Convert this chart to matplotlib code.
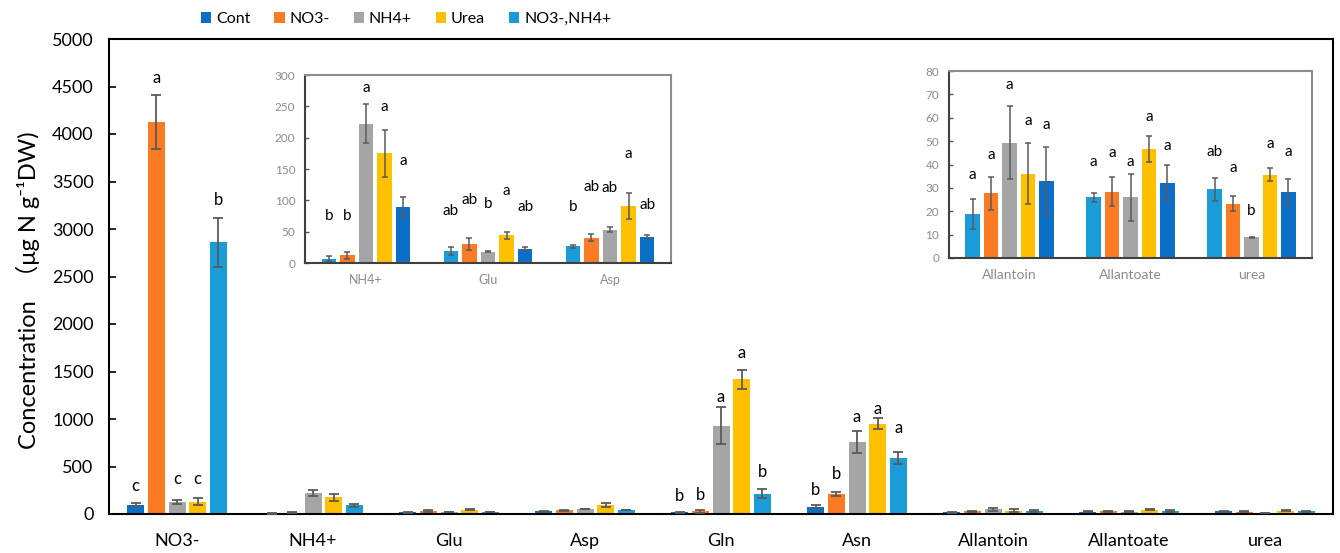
import numpy as np
import matplotlib
matplotlib.use('Agg')
import matplotlib.pyplot as plt
from matplotlib.patches import Patch

plt.rcParams['font.family'] = ['Lato', 'Noto Sans CJK SC', 'DejaVu Sans']

# 数据 (main order: Cont, NO3-, NH4+, Urea, NO3-,NH4+)
groups = ['NO3-', 'NH4+', 'Glu', 'Asp', 'Gln', 'Asn', 'Allantoin', 'Allantoate', 'urea']
series = ['Cont', 'NO3-', 'NH4+', 'Urea', 'NO3-,NH4+']

cont = [100, 7, 19, 26.5, 20, 77, 18.8, 26, 29.4]
no3 = [4130, 12, 30, 40.5, 30, 210, 27.7, 28.3, 23.3]
nh4 = [130, 222, 18, 53, 930, 758, 49.4, 26, 8.8]
urea = [130, 175, 44, 91, 1420, 950, 36, 46.7, 35.7]
mix = [2860, 90, 23, 42, 215, 590, 32.8, 32.2, 28.4]

cont_err = [15, 3.5, 6, 2.5, 5, 17, 6.5, 2, 5]
no3_err = [285, 6, 10, 6, 15, 20, 7, 6.2, 3.3]
nh4_err = [20, 31, 1, 4, 195, 120, 15.6, 10, 0.3]
urea_err = [35, 38, 6, 20, 100, 60, 13, 5.5, 2.8]
mix_err = [260, 16, 2, 2, 50, 63, 14.5, 7.5, 5.4]

# significance letters
main_letters = {
    0: ['c', 'a', 'c', 'c', 'b'],
    4: ['b', 'b', 'a', 'a', 'b'],
    5: ['b', 'b', 'a', 'a', 'a'],
}
inset_letters = {
    1: ['b', 'b', 'a', 'a', 'a'],
    2: ['ab', 'ab', 'b', 'a', 'ab'],
    3: ['b', 'ab', 'ab', 'a', 'ab'],
    6: ['a', 'a', 'a', 'a', 'a'],
    7: ['a', 'a', 'a', 'a', 'a'],
    8: ['ab', 'a', 'b', 'a', 'a'],
}

# letter heights (annotation layout)
main_letter_y = {
    0: [290, 4590, 370, 370, 3310],
    4: [185, 200, 1235, 1700, 445],
    5: [255, 420, 1025, 1100, 910],
}
inset_letter_y = {
    1: [75, 75, 279, 249, 162],
    2: [83, 100, 94, 115, 89],
    3: [89, 121, 119, 174, 92],
    6: [35.5, 43.9, 74, 58.7, 56.8],
    7: [41.2, 45, 41.2, 60.5, 47.9],
    8: [45.2, 38.4, 20.2, 48.7, 45.2],
}

colors = ['#0B6FC7', '#FB7B25', '#A5A5A5', '#FFC000', '#1A9CD8']
# the insets swap the two blues
inset_colors = ['#1A9CD8', '#FB7B25', '#A5A5A5', '#FFC000', '#0B6FC7']

values = [cont, no3, nh4, urea, mix]
errors = [cont_err, no3_err, nh4_err, urea_err, mix_err]

W, H = 1340, 553
fig = plt.figure(figsize=(W / 100, H / 100), dpi=100)

# ---- main axes ----
ax = fig.add_axes([109 / W, 1 - 514 / H, (1333 - 109) / W, (514 - 39) / H])
x = np.arange(len(groups))
step, bw = 0.152, 0.125
for i in range(5):
    xs = x + (i - 2) * step
    ax.bar(xs, values[i], bw, color=colors[i], zorder=2)
    ax.errorbar(xs, values[i], yerr=errors[i], fmt='none', ecolor='#5A5A5A',
                elinewidth=1.3, capsize=3.5, capthick=1.3, zorder=3)

for g, lets in main_letters.items():
    for i, t in enumerate(lets):
        ax.text(g + (i - 2) * step, main_letter_y[g][i], t, ha='center', va='center',
                fontsize=12, color='black')

ax.set_xlim(-0.5, len(groups) - 0.5)
ax.set_ylim(0, 5000)
ax.set_yticks(np.arange(0, 5001, 500))
ax.set_xticks(x)
ax.set_xticklabels(groups, fontsize=13)
ax.tick_params(axis='x', length=0, pad=14)
ax.tick_params(axis='y', direction='in', length=5, width=1.2, labelsize=13, pad=11)
for s in ax.spines.values():
    s.set_linewidth(1.5)
    s.set_color('black')

fig.text(28 / W, 1 - 290 / H, 'Concentration  （μg N g⁻¹DW)', rotation=90,
         ha='center', va='center', fontsize=17)

handles = [Patch(facecolor=c, edgecolor='none') for c in colors]
fig.legend(handles, series, loc='center', bbox_to_anchor=(406 / W, 1 - 19 / H), ncol=5,
           frameon=False, fontsize=11.5, handlelength=0.65, handleheight=0.65,
           handletextpad=0.3, columnspacing=1.5)


def draw_inset(rect, idx, ymax, ystep, xlab_size):
    ia = fig.add_axes(rect)
    xi = np.arange(len(idx))
    for i in range(5):
        xs = xi + (i - 2) * 0.152
        vals = [values[i][g] for g in idx]
        errs = [errors[i][g] for g in idx]
        ia.bar(xs, vals, 0.12, color=inset_colors[i], zorder=2)
        ia.errorbar(xs, vals, yerr=errs, fmt='none', ecolor='#5A5A5A',
                    elinewidth=1.1, capsize=2.5, capthick=1.1, zorder=3)
    for k, g in enumerate(idx):
        for i, t in enumerate(inset_letters[g]):
            ia.text(k + (i - 2) * 0.152, inset_letter_y[g][i], t, ha='center',
                    va='center', fontsize=11, color='black')
    ia.set_xlim(-0.5, len(idx) - 0.5)
    ia.set_ylim(0, ymax)
    ia.set_yticks(np.arange(0, ymax + 1, ystep))
    ia.set_xticks(xi)
    ia.set_xticklabels([groups[g] for g in idx], fontsize=xlab_size, color='#8C8C8C')
    ia.tick_params(axis='x', length=0, pad=8)
    ia.tick_params(axis='y', direction='in', length=3, width=1, labelsize=8.5,
                   labelcolor='#8C8C8C', color='#595959', pad=7)
    ia.spines['left'].set_color('#404040')
    ia.spines['bottom'].set_color('#404040')
    ia.spines['top'].set_color('#8C8C8C')
    ia.spines['right'].set_color('#8C8C8C')
    for s in ia.spines.values():
        s.set_linewidth(1.5)
    ia.patch.set_alpha(0)
    return ia


draw_inset([305 / W, 1 - 263 / H, (671 - 305) / W, (263 - 75) / H], [1, 2, 3], 300, 50, 9)
draw_inset([949 / W, 1 - 258 / H, (1312 - 949) / W, (258 - 71) / H], [6, 7, 8], 80, 10, 10)

fig.savefig('out.png', dpi=100)
